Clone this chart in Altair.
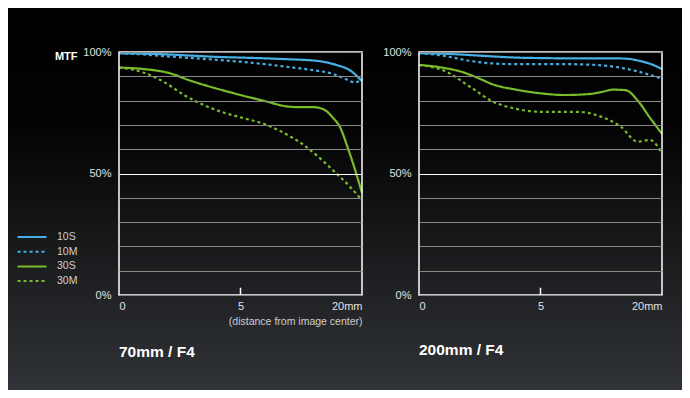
import altair as alt
import pandas as pd

series = ["10S", "10M", "30S", "30M"]
series_colors = ["#46b0e4", "#46b0e4", "#79bb2b", "#79bb2b"]
series_dash = [[1, 0], [3, 3], [1, 0], [3, 3]]

# 70mm / F4
x70_10S = [0, 1, 2, 3, 4, 5, 6, 7, 7.5, 8, 8.5, 9, 9.5, 10]
y70_10S = [99.5, 99.3, 99, 98.5, 98, 97.7, 97.4, 97, 96.8, 96.5, 95.8, 94.5, 92.5, 88]
x70_10M = [0, 1, 2, 3, 4, 5, 6, 7, 8, 8.8, 9.3, 9.7, 10]
y70_10M = [99.5, 99, 98.2, 97.5, 96.8, 96, 95, 93.8, 92.5, 91, 89, 87.5, 88.5]
x70_30S = [0, 1, 2, 3, 4, 5, 6, 7, 7.5, 8, 8.4, 8.8, 9.1, 9.4, 9.7, 10]
y70_30S = [93.6, 93, 91.5, 88, 85, 82.3, 79.8, 77.5, 77.3, 77.3, 76.5, 73, 69, 61, 52, 42]
x70_30M = [0, 0.9, 1.7, 2.8, 4, 5, 6, 7, 7.7, 8.3, 8.8, 9.5, 10]
y70_30M = [93.6, 91.9, 88.5, 81.6, 76.1, 73.1, 70.3, 65.5, 61, 56, 51.4, 44.6, 39]

# 200mm / F4
x200_10S = [0, 1, 2, 3, 4, 5, 6, 7, 8, 8.6, 9, 9.5, 10]
y200_10S = [99.5, 99.3, 98.8, 98.2, 97.7, 97.5, 97.4, 97.4, 97.4, 97.2, 96.5, 95.2, 93]
x200_10M = [0, 1, 2, 3, 4, 5, 6, 7, 8, 9, 10]
y200_10M = [99.5, 98.5, 96.5, 95.3, 95, 95, 95, 94.8, 94, 92, 89]
x200_30S = [0, 1, 1.7, 2.5, 3, 4, 5, 6, 7, 7.5, 8, 8.5, 9, 9.5, 10]
y200_30S = [94.7, 93.5, 92, 89, 86.8, 84.5, 83, 82.3, 82.7, 83.5, 84.5, 84.3, 80, 73, 66.3]
x200_30M = [0, 1.1, 2.1, 3, 4.1, 5, 6.5, 7.4, 8.3, 9, 9.5, 10]
y200_30M = [94.7, 92, 85.7, 79.8, 76.4, 75.4, 75.4, 73.7, 69.3, 63.1, 63.8, 58.3]

x_tick_values = [0, 5, 10]
x_tick_labels = ["0", "5", "20mm"]
y_tick_values = [0, 10, 20, 30, 40, 50, 60, 70, 80, 90, 100]
y_label_values = [0, 50, 100]
y_label_texts = ["0%", "50%", "100%"]

panel_titles = ["70mm / F4", "200mm / F4"]
x_title = "(distance from image center)"


def make_df(xs_list, ys_list):
    rows = []
    for s, xs, ys in zip(series, xs_list, ys_list):
        for x, y in zip(xs, ys):
            rows.append({"series": s, "x": x, "y": y})
    return pd.DataFrame(rows)


df70 = make_df([x70_10S, x70_10M, x70_30S, x70_30M], [y70_10S, y70_10M, y70_30S, y70_30M])
df200 = make_df([x200_10S, x200_10M, x200_30S, x200_30M], [y200_10S, y200_10M, y200_30S, y200_30M])


def ternary(values, labels, default="''"):
    expr = default
    for v, l in zip(reversed(values), reversed(labels)):
        expr = f"datum.value === {v} ? '{l}' : ({expr})"
    return expr


x_label_expr = ternary(x_tick_values, x_tick_labels)
y_label_expr = ternary(y_label_values, y_label_texts)

W = H = 243
LABEL_COLOR = "#e2e2e2"
FONT = "Liberation Sans"

legend = alt.Legend(
    orient="none", legendX=-93, legendY=179, title=None,
    symbolType="M-3,0H3", symbolSize=93, symbolStrokeWidth=2,
    labelColor="#cfcfcf", labelFontSize=10.5, labelOffset=19,
    rowPadding=2.7, padding=0,
)
color_enc = alt.Color("series:N", scale=alt.Scale(domain=series, range=series_colors), legend=legend, sort=series)
dash_enc = alt.StrokeDash("series:N", scale=alt.Scale(domain=series, range=series_dash), legend=legend, sort=series)

xscale = alt.Scale(domain=[0, 10], nice=False, zero=False)
yscale = alt.Scale(domain=[0, 100], nice=False)


def axes_for(left):
    xaxis = alt.Axis(
        values=x_tick_values, labelExpr=x_label_expr, labelFlush=True, ticks=False,
        domain=False, grid=False, labelPadding=5, labelFontSize=11, labelColor=LABEL_COLOR,
        title=x_title if left else None, titleAnchor="end", titleFontSize=10.5,
        titleFontWeight="normal", titleColor="#cfcfcf", titlePadding=5, zindex=1,
    )
    yargs = dict(
        values=y_tick_values, labelExpr=y_label_expr, ticks=False, domain=False,
        grid=True,
        gridColor={"condition": {"test": "datum.value === 50", "value": "#ffffff"}, "value": "#8a8a8a"},
        gridWidth=1, labelPadding=8, labelFontSize=11, labelColor=LABEL_COLOR, zindex=1,
    )
    if left:
        yargs.update(title="MTF", titleAngle=0, titleAlign="right", titleBaseline="middle",
                     titleX=-42, titleY=4, titleFontWeight="bold", titleFontSize=11, titleColor="#ffffff")
    else:
        yargs.update(title=None)
    return xaxis, alt.Axis(**yargs)


def panel(df, idx):
    left = idx == 0
    xaxis, yaxis = axes_for(left)

    lines = alt.Chart(df).mark_line(interpolate="monotone", strokeWidth=2.2).encode(
        x=alt.X("x:Q", scale=xscale, axis=xaxis),
        y=alt.Y("y:Q", scale=yscale, axis=yaxis),
        color=color_enc,
        strokeDash=dash_enc,
        detail="series:N",
    )
    one = pd.DataFrame({"a": [0]})
    tick = alt.Chart(one).mark_rule(color="#ffffff", strokeWidth=1.5).encode(
        x=alt.X(datum=5, type="quantitative", scale=xscale, axis=xaxis),
        y=alt.Y(datum=0, type="quantitative", scale=yscale, axis=yaxis),
        y2=alt.datum(3),
    )
    border = alt.Chart(one).mark_rect(filled=False, stroke="#ffffff", strokeWidth=1.5).encode(
        x=alt.X(datum=0, type="quantitative", scale=xscale, axis=xaxis),
        x2=alt.datum(10),
        y=alt.Y(datum=0, type="quantitative", scale=yscale, axis=yaxis),
        y2=alt.datum(100),
    )
    layers = []
    if left:
        grad = alt.LinearGradient(
            gradient="linear", x1=0, y1=0, x2=0, y2=1,
            stops=[
                alt.GradientStop(color="#000000", offset=0),
                alt.GradientStop(color="#030303", offset=0.3),
                alt.GradientStop(color="#18191b", offset=0.62),
                alt.GradientStop(color="#303337", offset=1),
            ],
        )
        bg = alt.Chart(one).mark_rect(color=grad).encode(
            x=alt.value(-111), x2=alt.value(563), y=alt.value(-44), y2=alt.value(338)
        )
        layers.append(bg)
    layers += [tick, lines, border]
    common = dict(orient="bottom", anchor="start", frame="group", fontSize=15.5,
                  fontWeight="bold", font=FONT, color="#ffffff")
    if left:
        title = alt.TitleParams(panel_titles[idx], offset=0, dy=-45, **common)
    else:
        title = alt.TitleParams(panel_titles[idx], offset=32, **common)
    return alt.layer(*layers).properties(width=W, height=H, title=title)


chart = alt.hconcat(panel(df70, 0), panel(df200, 1), spacing=57, bounds="flush").properties(
    padding=0, background="#000000"
).configure(font=FONT).configure_view(strokeWidth=0)

chart.save("out.html", embed_options={"renderer": "svg", "actions": False})
